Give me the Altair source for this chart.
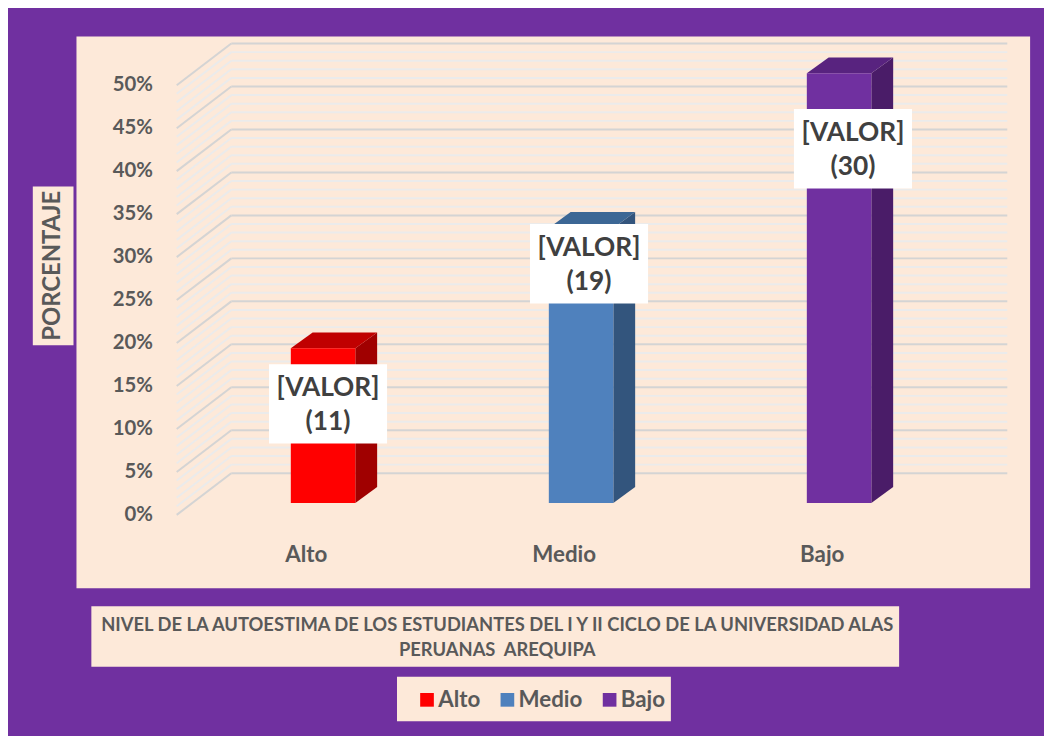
import altair as alt
import pandas as pd

# ---------------- data ----------------
categories = ["Alto", "Medio", "Bajo"]
percents = [18, 32, 50]          # bar heights (%)
counts = [11, 19, 30]            # counts shown in the data labels
front_colors = ["#FF0000", "#4F81BD", "#7030A0"]
top_colors = ["#C00000", "#3C6795", "#58237F"]
side_colors = ["#A00000", "#33557D", "#4A1C68"]
tick_values = [0, 5, 10, 15, 20, 25, 30, 35, 40, 45, 50]
minor_values = [v for v in range(0, 51) if v % 5 != 0]
y_title = "PORCENTAJE"
title_lines = [
    "NIVEL DE LA AUTOESTIMA DE LOS ESTUDIANTES DEL I Y II CICLO DE LA UNIVERSIDAD ALAS",
    "PERUANAS \u00a0AREQUIPA",
]
label_word = "[VALOR]"

# ---------------- style ----------------
FONT = "Lato"
GRAY = "#595959"
DARK = "#404040"
PEACH = "#FDE9D9"
PURPLE = "#7030A0"
HALF_W = 0.125          # half bar width (category units)
DEPTH_X = 0.0846        # bar depth in category units
DEPTH_Y = 1.85          # bar depth in % units
label_shift = {"Alto": (5, 56), "Medio": (8, 36), "Bajo": (14, 76)}

xs = alt.Scale(domain=[0, 3], range=[187.5, 967.5])
ys = alt.Scale(domain=[0, 50], range=[496, 63])

bars = pd.DataFrame({
    "cat": categories,
    "pct": percents,
    "count": counts,
    "front": front_colors,
    "top": top_colors,
    "side": side_colors,
})
bars["pos"] = [i + 0.5 for i in range(len(categories))]
bars["x0"] = bars["pos"] - HALF_W
bars["x1"] = bars["pos"] + HALF_W
bars["base"] = 0

side_rows, top_rows = [], []
for r in bars.to_dict("records"):
    c, p, x0, x1 = r["cat"], r["pct"], r["x0"], r["x1"]
    side_rows += [
        dict(cat=c, c=r["side"], x=x1, lo=0, hi=p),
        dict(cat=c, c=r["side"], x=x1 + DEPTH_X, lo=DEPTH_Y, hi=p + DEPTH_Y),
    ]
    top_rows += [
        dict(cat=c, c=r["top"], x=x0, lo=p, hi=p),
        dict(cat=c, c=r["top"], x=x0 + DEPTH_X, lo=p, hi=p + DEPTH_Y),
        dict(cat=c, c=r["top"], x=x1, lo=p, hi=p + DEPTH_Y),
        dict(cat=c, c=r["top"], x=x1 + DEPTH_X, lo=p + DEPTH_Y, hi=p + DEPTH_Y),
    ]
side_df = pd.DataFrame(side_rows)
top_df = pd.DataFrame(top_rows)

ticks = pd.DataFrame({"v": tick_values, "lab": [f"{v}%" for v in tick_values]})
minors = pd.DataFrame({"v": minor_values})
one = pd.DataFrame({"k": [0]})


def box(x0, x1, y0, y1, fill):
    return alt.Chart(one).mark_rect(fill=fill).encode(
        x=alt.value(x0), x2=alt.value(x1), y=alt.value(y0), y2=alt.value(y1)
    )


layers = [
    box(69, 1030, 26, 582, PEACH),
    box(25, 66, 177, 337, PEACH),
    box(84, 898, 600, 661, PEACH),
    box(392, 668, 671, 716, PEACH),
]

# grid: minor then major, front diagonal + back wall
for df, col, sw in [(minors, "#EBEBEB", 2), (ticks, "#D4D4D4", 2)]:
    layers.append(
        alt.Chart(df).mark_rule(color=col, strokeWidth=sw, yOffset=12, y2Offset=-30).encode(
            x=alt.value(170), x2=alt.value(225),
            y=alt.Y("v:Q", scale=ys, axis=None), y2="v:Q",
        )
    )
    layers.append(
        alt.Chart(df).mark_rule(color=col, strokeWidth=sw, yOffset=-30).encode(
            x=alt.value(225), x2=alt.value(1007),
            y=alt.Y("v:Q", scale=ys, axis=None),
        )
    )

# y tick labels (front edge)
layers.append(
    alt.Chart(ticks).mark_text(
        align="right", baseline="middle", dy=12, font=FONT, fontSize=20.5,
        fontWeight="bold", color=GRAY,
    ).encode(x=alt.value(146), y=alt.Y("v:Q", scale=ys, axis=None), text="lab:N")
)

# bars: side, top, front
layers.append(
    alt.Chart(side_df).mark_area(opacity=1).encode(
        x=alt.X("x:Q", scale=xs, axis=None),
        y=alt.Y("lo:Q", scale=ys, axis=None), y2="hi:Q",
        detail="cat:N", color=alt.Color("c:N", scale=None),
    )
)
layers.append(
    alt.Chart(top_df).mark_area(opacity=1).encode(
        x=alt.X("x:Q", scale=xs, axis=None),
        y=alt.Y("lo:Q", scale=ys, axis=None), y2="hi:Q",
        detail="cat:N", color=alt.Color("c:N", scale=None),
    )
)
layers.append(
    alt.Chart(bars).mark_rect().encode(
        x=alt.X("x0:Q", scale=xs, axis=None), x2="x1:Q",
        y=alt.Y("base:Q", scale=ys, axis=None), y2="pct:Q",
        color=alt.Color(
            "cat:N",
            scale=alt.Scale(domain=categories, range=front_colors),
            legend=alt.Legend(
                title=None, orient="none", legendX=411, legendY=683,
                direction="horizontal", symbolType="square", symbolSize=190,
                symbolStrokeWidth=0, labelFont=FONT, labelFontSize=22.5,
                labelFontWeight="bold", labelColor=GRAY, labelOffset=0,
                columnPadding=16, padding=0,
            ),
        ),
    )
)

# data labels
for cat, cnt in zip(categories, counts):
    dx, dy = label_shift[cat]
    sub = alt.Chart(bars).transform_filter(alt.datum.cat == cat)
    layers.append(
        sub.mark_rect(
            fill="white", xOffset=dx - 59.5, x2Offset=dx + 59.5,
            yOffset=dy - 40, y2Offset=dy + 40,
        ).encode(
            x=alt.X("pos:Q", scale=xs, axis=None), x2="pos:Q",
            y=alt.Y("pct:Q", scale=ys, axis=None), y2="pct:Q",
        )
    )
    layers.append(
        sub.mark_text(
            text=[label_word, f"({cnt})"], dx=dx, dy=dy - 16, lineHeight=34,
            align="center", baseline="middle", font=FONT, fontSize=26.5,
            fontWeight="bold", color=DARK,
        ).encode(
            x=alt.X("pos:Q", scale=xs, axis=None),
            y=alt.Y("pct:Q", scale=ys, axis=None),
        )
    )

# category labels
layers.append(
    alt.Chart(bars).mark_text(
        dx=-17, align="center", baseline="middle", font=FONT, fontSize=22.5,
        fontWeight="bold", color=GRAY,
    ).encode(x=alt.X("pos:Q", scale=xs, axis=None), y=alt.value(548), text="cat:N")
)

# y title
layers.append(
    alt.Chart(one).mark_text(
        text=y_title, angle=270, align="center", baseline="middle", font=FONT,
        fontSize=24, fontWeight="bold", color=GRAY,
    ).encode(x=alt.value(45.5), y=alt.value(257))
)

# chart title box text
layers.append(
    alt.Chart(one).mark_text(
        text=title_lines, lineHeight=25, align="center", baseline="middle",
        font=FONT, fontSize=18.5, fontWeight="bold", color=GRAY,
    ).encode(x=alt.value(493), y=alt.value(619))
)

chart = alt.layer(*layers).properties(
    width=1044, height=728, autosize="none", padding=0, background=PURPLE,
).configure_view(stroke=None)

chart.save("out.html", embed_options={"renderer": "svg", "actions": False})
